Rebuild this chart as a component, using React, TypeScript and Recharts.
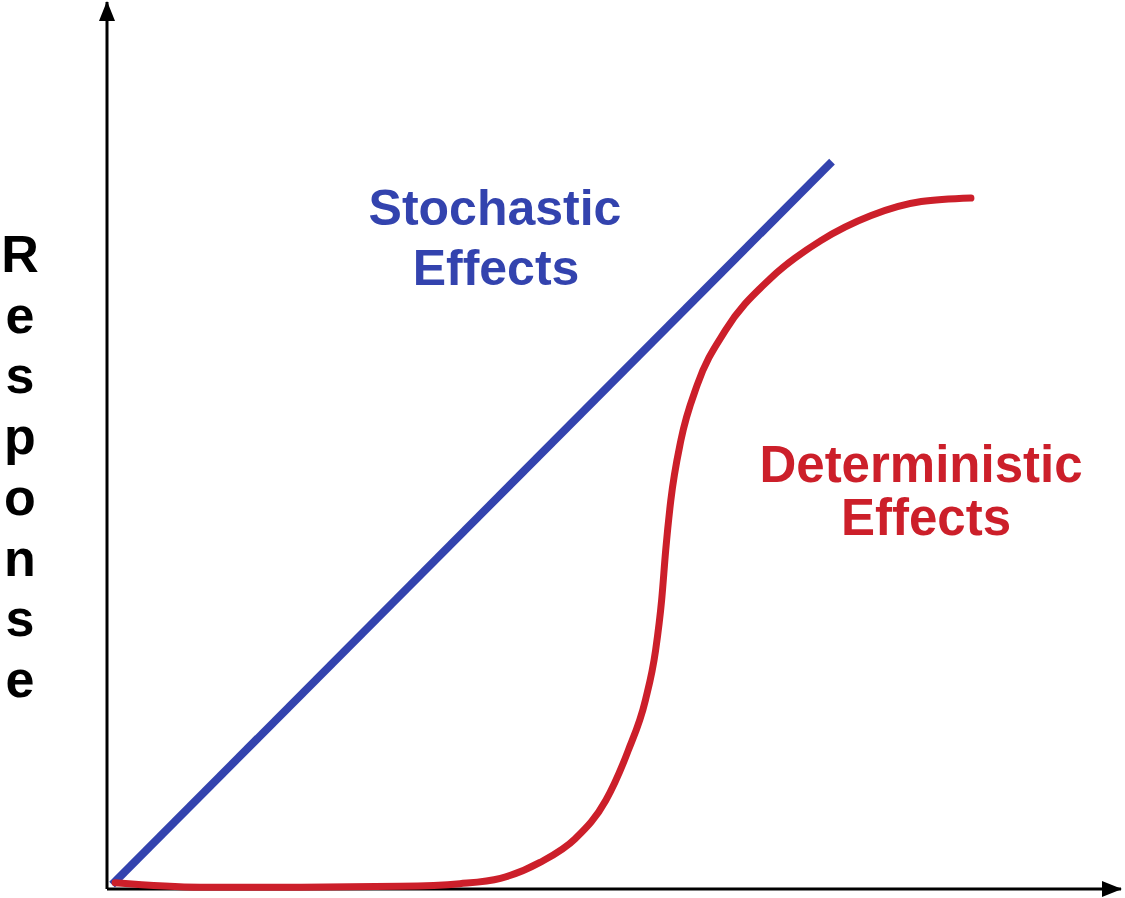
import { LineChart, Line, XAxis, YAxis, ReferenceLine } from 'recharts'

// dose (0-100) vs response (0-100)
const stochasticDose = [0.5, 71.5]
const stochasticResponse = [0.5, 82]

const deterministicDose = [0.8, 9.2, 19.1, 28.9, 34.8, 38.8, 42.7, 46.2, 49.2, 51.4, 53.1, 54.1, 54.7, 55.1, 55.6, 56.6, 58.2, 61.0, 65.4, 70.4, 75.3, 80.3, 85.2]
const deterministicResponse = [0.7, 0.2, 0.2, 0.3, 0.6, 1.2, 3.0, 5.7, 10.0, 15.6, 21.3, 26.9, 32.6, 38.2, 43.8, 50.6, 56.8, 63.0, 68.8, 73.1, 75.9, 77.5, 77.9]

const yLabel = 'Response'

const BLUE = '#3343ae'
const RED = '#cc1f2a'
const FONT = '"Liberation Sans", Arial, sans-serif'

const stochastic = stochasticDose.map((d, i) => ({ dose: d, response: stochasticResponse[i] }))
const deterministic = deterministicDose.map((d, i) => ({ dose: d, response: deterministicResponse[i] }))

export default function App() {
  return (
    <div style={{ position: 'absolute', left: 0, top: 0, width: 1125, height: 898, background: '#fff' }}>
      <svg width={0} height={0} style={{ position: 'absolute' }}>
        <defs>
          <marker
            id="arrow"
            markerUnits="userSpaceOnUse"
            markerWidth={20}
            markerHeight={16}
            refX={19}
            refY={8}
            orient="auto"
          >
            <path d="M0,0 L20,8 L0,16 Z" fill="#000" />
          </marker>
        </defs>
      </svg>
      <LineChart width={1125} height={898} margin={{ top: 2, right: 4, left: 107, bottom: 9 }}>
        <XAxis type="number" dataKey="dose" domain={[0, 100]} height={0} hide />
        <YAxis type="number" dataKey="response" domain={[0, 100]} width={0} hide />
        <ReferenceLine
          segment={[{ x: 0, y: 0 }, { x: 100, y: 0 }]}
          stroke="#000"
          strokeWidth={3}
          markerEnd="url(#arrow)"
          ifOverflow="visible"
        />
        <ReferenceLine
          segment={[{ x: 0, y: 0 }, { x: 0, y: 100 }]}
          stroke="#000"
          strokeWidth={3}
          markerEnd="url(#arrow)"
          ifOverflow="visible"
        />
        <Line
          data={stochastic}
          dataKey="response"
          type="linear"
          stroke={BLUE}
          strokeWidth={8}
          strokeLinecap="butt"
          dot={false}
          isAnimationActive={false}
        />
        <Line
          data={deterministic}
          dataKey="response"
          type="monotone"
          stroke={RED}
          strokeWidth={7}
          strokeLinecap="round"
          dot={false}
          isAnimationActive={false}
        />
        <text fontFamily={FONT} fontWeight="bold" fontSize={50} fill={BLUE} textAnchor="middle">
          <tspan x={495} y={225}>Stochastic</tspan>
          <tspan x={496} y={285}>Effects</tspan>
        </text>
        <text fontFamily={FONT} fontWeight="bold" fontSize={51} fill={RED} textAnchor="middle">
          <tspan x={921} y={482}>Deterministic</tspan>
          <tspan x={926} y={535}>Effects</tspan>
        </text>
        <text fontFamily={FONT} fontWeight="bold" fontSize={52} fill="#000" textAnchor="middle">
          {yLabel.split('').map((ch, i) => (
            <tspan key={i} x={20} y={272 + i * 60.7}>
              {ch}
            </tspan>
          ))}
        </text>
      </LineChart>
    </div>
  )
}
